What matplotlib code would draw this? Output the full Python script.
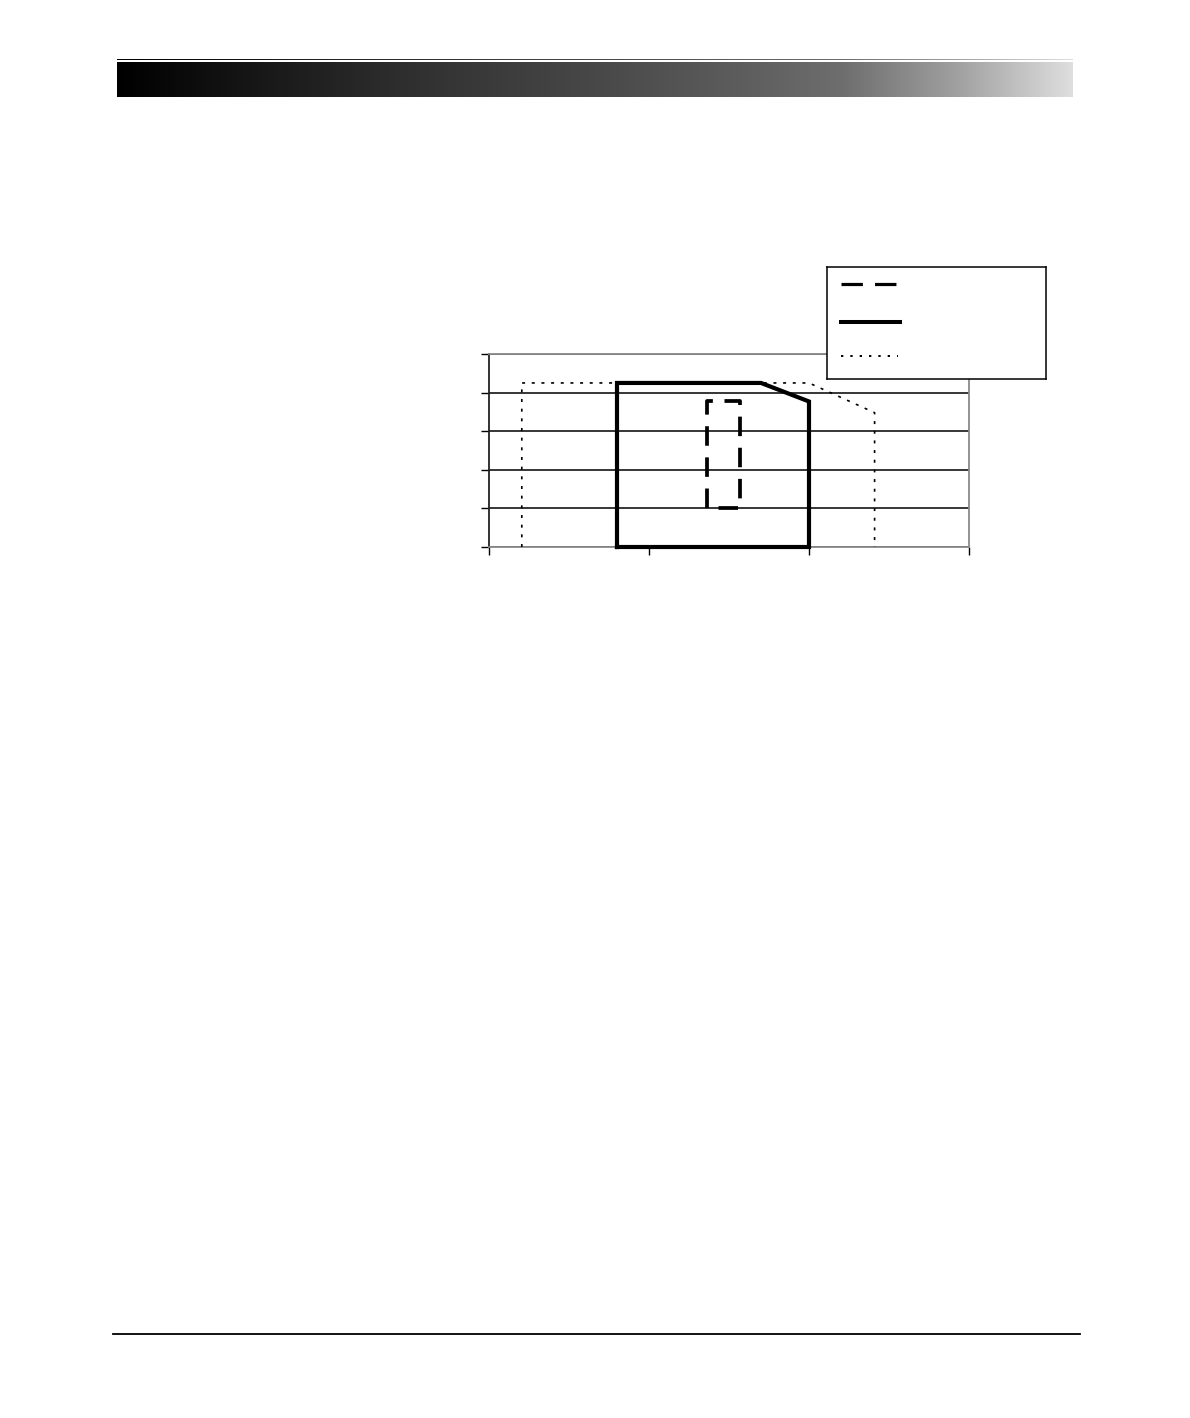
import numpy as np
import matplotlib
matplotlib.use("Agg")
import matplotlib.pyplot as plt
from matplotlib.colors import LinearSegmentedColormap

# ---- data (axis units) ----
x_ticks = [0, 1, 2, 3]
y_ticks = [0, 1, 2, 3, 4, 5]

dashed_x = [1.36, 1.36, 1.57, 1.57, 1.36]
dashed_y = [1.0, 3.77, 3.77, 1.0, 1.0]

solid_x = [0.80, 0.80, 1.70, 2.0, 2.0, 0.80]
solid_y = [0.0, 4.25, 4.25, 3.77, 0.0, 0.0]

dotted_x = [0.205, 0.205, 2.0, 2.41, 2.41]
dotted_y = [0.0, 4.25, 4.25, 3.48, 0.0]

W, H = 1190, 1418
fig = plt.figure(figsize=(W / 100, H / 100), dpi=100)
fig.patch.set_facecolor("white")


def px_axes(x0, y0, x1, y1, **kw):
    return fig.add_axes([x0 / W, 1 - y1 / H, (x1 - x0) / W, (y1 - y0) / H], **kw)


# ---- header gradient bar ----
grad_cmap = LinearSegmentedColormap.from_list(
    "hdr",
    [(0.0, "#000000"), (0.15, "#181818"), (0.33, "#333333"), (0.5, "#484848"),
     (0.66, "#5e5e5e"), (0.76, "#6e6e6e"), (0.88, "#a0a0a0"), (1.0, "#dedede")])
grad = np.linspace(0, 1, 512).reshape(1, -1)
hbar = px_axes(117, 61.5, 1073, 97)
hbar.imshow(grad, aspect="auto", cmap=grad_cmap, extent=[0, 1, 0, 1])
hbar.set_axis_off()
hline = px_axes(117, 58.5, 1073, 60.5)
hline.imshow(grad, aspect="auto", cmap=grad_cmap, extent=[0, 1, 0, 1])
hline.set_axis_off()

# ---- footer line ----
fig.add_artist(plt.Line2D([113 / W, 1080 / W], [1 - 1333.5 / H, 1 - 1333.5 / H],
                          color="black", lw=1.3))

# ---- main chart ----
ax = px_axes(489, 354, 969, 547)
ax.set_xlim(x_ticks[0], x_ticks[-1])
ax.set_ylim(y_ticks[0], y_ticks[-1])
ax.set_xticks(x_ticks)
ax.set_yticks(y_ticks)
ax.set_xticklabels([])
ax.set_yticklabels([])
ax.tick_params(axis="both", direction="out", length=5.5, width=1.0, color="black")
ax.grid(axis="y", color="black", lw=1.1)
ax.set_axisbelow(True)
for side in ["top", "right", "bottom"]:
    ax.spines[side].set_color("#8a8a8a")
    ax.spines[side].set_linewidth(1.3)
ax.spines["left"].set_color("#222222")
ax.spines["left"].set_linewidth(1.3)

ax.plot(dotted_x, dotted_y, color="black", lw=1.2, dashes=(1.8, 4.0), clip_on=False, zorder=3)
ax.plot(solid_x, solid_y, color="black", lw=3.0, solid_joinstyle="miter", clip_on=False, zorder=4)
ax.plot(dashed_x, dashed_y, color="black", lw=2.7, dashes=(5.2, 3.1), clip_on=False, zorder=5)

# ---- legend box (no labels in the original) ----
lg = px_axes(827, 267, 1046, 379)
lg.set_xlim(0, 1)
lg.set_ylim(0, 1)
lg.set_xticks([])
lg.set_yticks([])
for s in lg.spines.values():
    s.set_color("black")
    s.set_linewidth(1.1)
lg.set_facecolor("white")
lg.plot([0.064, 0.315], [0.848, 0.848], color="black", lw=2.3, dashes=(6.7, 3.8))
lg.plot([0.064, 0.333], [0.509, 0.509], color="black", lw=2.9)
lg.plot([0.064, 0.324], [0.205, 0.205], color="black", lw=1.4, dashes=(1.2, 3.6))

fig.savefig("out.png", dpi=100)
